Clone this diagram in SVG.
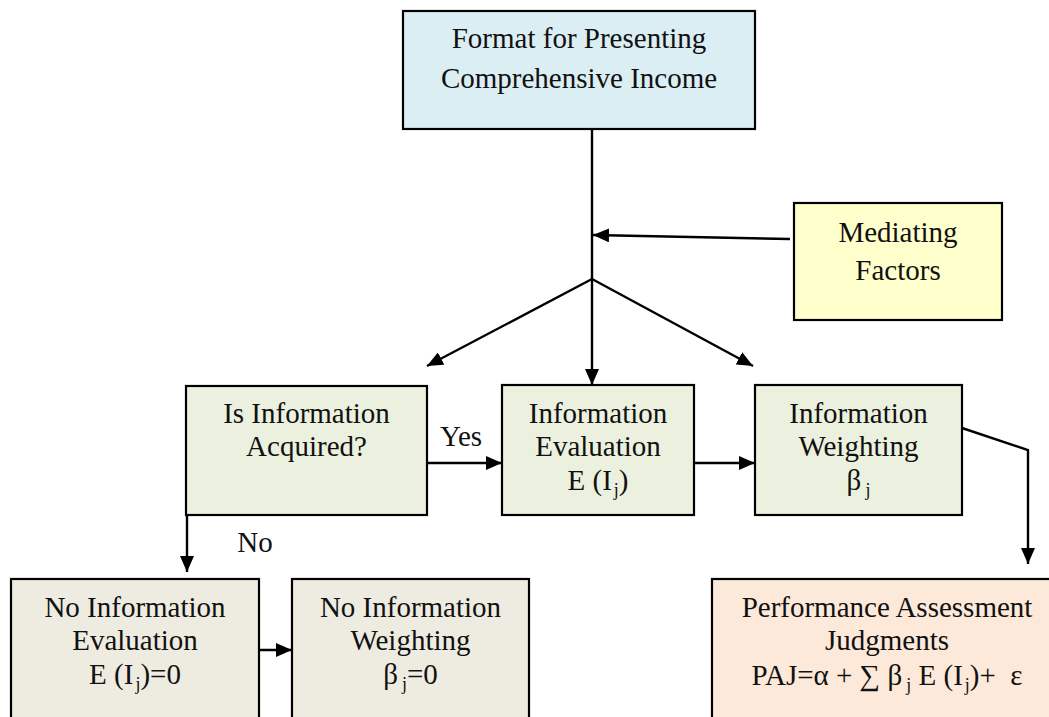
<svg xmlns="http://www.w3.org/2000/svg" width="1049" height="717" viewBox="0 0 1049 717">
<style>
.box{stroke:#000;stroke-width:2.2}
.t{font-family:"Liberation Serif","Times New Roman",serif;font-size:29px;fill:#111;text-anchor:middle}
.sub{font-size:18px}
.c{stroke:#000;stroke-width:2.4;fill:none}
</style>
<defs>
<marker id="ah" viewBox="0 0 16 14" refX="16" refY="7" markerWidth="16" markerHeight="14" markerUnits="userSpaceOnUse" orient="auto">
<path d="M0,0 L16,7 L0,14 z" fill="#000"/>
</marker>
</defs>
<rect width="1049" height="717" fill="#fff"/>
<g id="connectors">
<path class="c" d="M592,129 L592,385" marker-end="url(#ah)"/>
<path class="c" d="M790,239 L593,235" marker-end="url(#ah)"/>
<path class="c" d="M592,279 L427,366" marker-end="url(#ah)"/>
<path class="c" d="M592,279 L753,366" marker-end="url(#ah)"/>
<path class="c" d="M427,463 L502,463" marker-end="url(#ah)"/>
<path class="c" d="M694,463 L755,463" marker-end="url(#ah)"/>
<path class="c" d="M962,428 L1028,450 L1028,564" marker-end="url(#ah)"/>
<path class="c" d="M187,515 L187,572" marker-end="url(#ah)"/>
<path class="c" d="M259,650 L292,650" marker-end="url(#ah)"/>
<text class="t" x="461" y="446">Yes</text>
<text class="t" x="255" y="552">No</text>
</g>
<g id="format">
<rect class="box" x="403" y="11" width="352" height="118" fill="#DBEEF4"/>
<text class="t" x="579" y="48">Format for Presenting</text>
<text class="t" x="579" y="88">Comprehensive Income</text>
</g>
<g id="mediating">
<rect class="box" x="794" y="203" width="208" height="117" fill="#FFFFCC"/>
<text class="t" x="898" y="242">Mediating</text>
<text class="t" x="898" y="280">Factors</text>
</g>
<g id="acquired">
<rect class="box" x="186" y="386" width="241" height="129" fill="#EBF1DE"/>
<text class="t" x="306.5" y="423">Is Information</text>
<text class="t" x="306.5" y="456">Acquired?</text>
</g>
<g id="evaluation">
<rect class="box" x="502" y="385" width="192" height="130" fill="#EBF1DE"/>
<text class="t" x="598" y="423">Information</text>
<text class="t" x="598" y="456">Evaluation</text>
<text class="t" x="598" y="490">E (I<tspan class="sub" dx="2" dy="6">j</tspan><tspan dy="-6">)</tspan></text>
</g>
<g id="weighting">
<rect class="box" x="755" y="385" width="207" height="130" fill="#EBF1DE"/>
<text class="t" x="858.5" y="423">Information</text>
<text class="t" x="858.5" y="456">Weighting</text>
<text class="t" x="858.5" y="490">β<tspan class="sub" dx="4" dy="6">j</tspan></text>
</g>
<g id="no-evaluation">
<rect class="box" x="11" y="579" width="248" height="150" fill="#EEECE1"/>
<text class="t" x="135" y="617">No Information</text>
<text class="t" x="135" y="650">Evaluation</text>
<text class="t" x="135" y="684">E (I<tspan class="sub" dx="2" dy="6">j</tspan><tspan dy="-6">)=0</tspan></text>
</g>
<g id="no-weighting">
<rect class="box" x="292" y="579" width="237" height="150" fill="#EEECE1"/>
<text class="t" x="410.5" y="617">No Information</text>
<text class="t" x="410.5" y="650">Weighting</text>
<text class="t" x="410.5" y="684">β<tspan class="sub" dx="4" dy="6">j</tspan><tspan dy="-6">=0</tspan></text>
</g>
<g id="paj">
<rect class="box" x="712" y="579" width="360" height="150" fill="#FDE9D9"/>
<text class="t" x="887" y="617">Performance Assessment</text>
<text class="t" x="887" y="650">Judgments</text>
<text class="t" x="887" y="685">PAJ=α + ∑ β<tspan class="sub" dx="4" dy="6">j</tspan><tspan dy="-6"> E (I</tspan><tspan class="sub" dx="2" dy="6">j</tspan><tspan dy="-6">)+ &#160;ε</tspan></text>
</g>
</svg>
